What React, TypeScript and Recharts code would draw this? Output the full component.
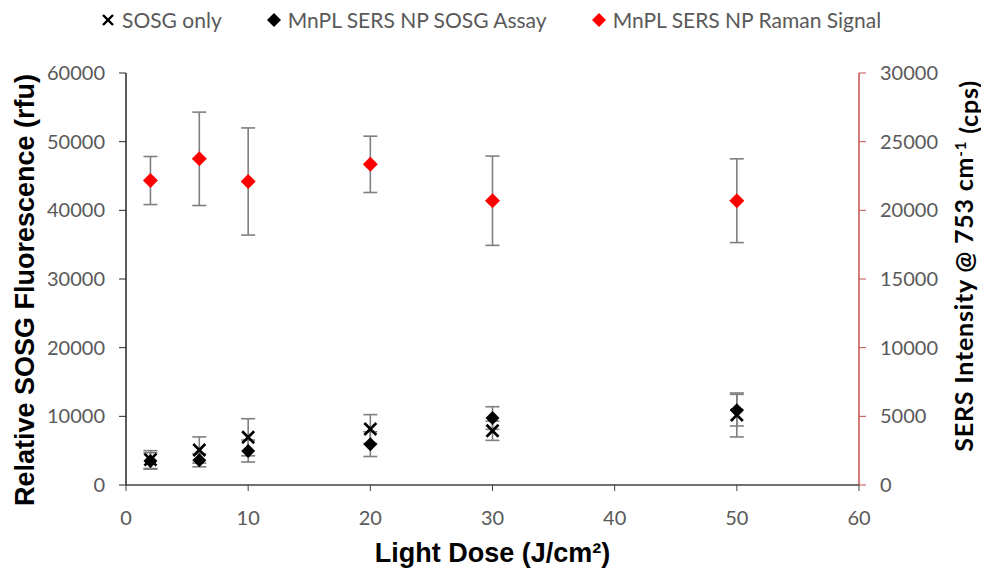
import { ComposedChart, Scatter, XAxis, YAxis, ErrorBar, Label } from "recharts";

const doses = [2, 6, 10, 20, 30, 50];
const sosgOnly = [3700, 5100, 6950, 8150, 7900, 10200];
const sosgOnlyErr = [1300, 1900, 2700, 2100, 1400, 3200];
const assay = [3500, 3600, 4950, 5950, 9750, 10900];
const assayErr = [1200, 950, 1600, 1800, 1650, 2300];
const raman = [22170, 23750, 22100, 23350, 20700, 20700];
const ramanErr = [1750, 3400, 3900, 2050, 3250, 3050];

const xTicks = [0, 10, 20, 30, 40, 50, 60];
const leftTicks = [0, 10000, 20000, 30000, 40000, 50000, 60000];
const rightTicks = [0, 5000, 10000, 15000, 20000, 25000, 30000];

const seriesNames = ["SOSG only", "MnPL SERS NP SOSG Assay", "MnPL SERS NP Raman Signal"];

const build = (vals: number[], errs: number[]) =>
  doses.map((x, i) => ({ x, y: vals[i], err: errs[i] }));

const sosgData = build(sosgOnly, sosgOnlyErr);
const assayData = build(assay, assayErr);
const ramanData = build(raman, ramanErr);

const tickStyle = { fill: "#595959", fontSize: 20, fontFamily: "Lato" };
const errColor = "#7f7f7f";
const rightRed = "#c0504d";

const diamond = (color: string, r: number) => (p: any) => {
  const { cx, cy } = p;
  return <path d={`M${cx},${cy - r}L${cx + r},${cy}L${cx},${cy + r}L${cx - r},${cy}Z`} fill={color} />;
};

const cross = (p: any) => {
  const { cx, cy } = p;
  const r = 6;
  return (
    <g stroke="#000" strokeWidth={2.6}>
      <line x1={cx - r} y1={cy - r} x2={cx + r} y2={cy + r} />
      <line x1={cx - r} y1={cy + r} x2={cx + r} y2={cy - r} />
    </g>
  );
};

const LeftTitle = (props: any) => {
  const { viewBox } = props;
  const cx = viewBox.x - 32;
  const cy = viewBox.y + viewBox.height / 2 + 11;
  return (
    <text x={cx} y={cy} transform={`rotate(-90, ${cx}, ${cy})`} textAnchor="middle" dy="0.36em"
      fontFamily="Liberation Sans" fontWeight="bold" fontSize={27} fill="#000">
      Relative SOSG Fluorescence (rfu)
    </text>
  );
};

const RightTitle = (props: any) => {
  const { viewBox } = props;
  const cx = viewBox.x + viewBox.width + 35;
  const cy = viewBox.y + viewBox.height / 2 - 13;
  return (
    <text x={cx} y={cy} transform={`rotate(-90, ${cx}, ${cy})`} textAnchor="middle" dy="0.36em"
      fontFamily="Lato" fontWeight="bold" fontSize={25} letterSpacing={0.8} fill="#000">
      SERS Intensity @ 753 cm
      <tspan dy="-0.45em" fontSize={15}>-1</tspan>
      <tspan dy="0.45em"> (cps)</tspan>
    </text>
  );
};

const BottomTitle = (props: any) => {
  const { viewBox } = props;
  return (
    <text x={viewBox.x + viewBox.width / 2} y={viewBox.y + 77} textAnchor="middle"
      fontFamily="Liberation Sans" fontWeight="bold" fontSize={27} fill="#000">
      Light Dose (J/cm²)
    </text>
  );
};

const LegendMarker = ({ i }: { i: number }) => (
  <svg width={16} height={16} style={{ marginRight: 6 }}>
    {i === 0 ? (
      <g stroke="#000" strokeWidth={2.4}>
        <line x1={3} y1={3} x2={13} y2={13} />
        <line x1={3} y1={13} x2={13} y2={3} />
      </g>
    ) : (
      <path d="M8,1L15,8L8,15L1,8Z" fill={i === 1 ? "#000" : "#ff0000"} />
    )}
  </svg>
);

export default function App() {
  return (
    <div style={{ position: "absolute", left: 0, top: 0, width: 981, height: 569, background: "#fff" }}>
      <div style={{ position: "absolute", left: 100, top: 7, display: "flex", alignItems: "center",
        fontFamily: "Lato", fontSize: 21, color: "#595959", whiteSpace: "nowrap" }}>
        {seriesNames.map((n, i) => (
          <div key={n} style={{ display: "flex", alignItems: "center", marginRight: 44 }}>
            <LegendMarker i={i} />
            <span>{n}</span>
          </div>
        ))}
      </div>
      <ComposedChart width={981} height={569} margin={{ top: 73, right: 52, bottom: 54, left: 56 }}>
        <XAxis dataKey="x" type="number" domain={[0, 60]} ticks={xTicks} interval={0}
          tick={tickStyle} tickSize={6} tickMargin={20} height={30}
          stroke="#404040" axisLine={{ stroke: "#404040", strokeWidth: 1.5 }}>
          <Label content={BottomTitle} />
        </XAxis>
        <YAxis yAxisId="left" dataKey="y" type="number" domain={[0, 60000]} ticks={leftTicks} interval={0}
          tick={tickStyle} tickSize={7} tickMargin={14} width={70}
          stroke="#262626" axisLine={{ stroke: "#262626", strokeWidth: 1.5 }}>
          <Label content={LeftTitle} />
        </YAxis>
        <YAxis yAxisId="right" orientation="right" dataKey="y" type="number" domain={[0, 30000]}
          ticks={rightTicks} interval={0} tick={tickStyle} tickSize={7} tickMargin={14} width={70}
          stroke={rightRed} axisLine={{ stroke: rightRed, strokeWidth: 1.5 }}>
          <Label content={RightTitle} />
        </YAxis>
        <Scatter name={seriesNames[2]} yAxisId="right" data={ramanData} dataKey="y"
          shape={diamond("#ff0000", 7.5)} isAnimationActive={false}>
          <ErrorBar dataKey="err" direction="y" width={7} stroke={errColor} strokeWidth={1.6} />
        </Scatter>
        <Scatter name={seriesNames[0]} yAxisId="left" data={sosgData} dataKey="y"
          shape={cross} isAnimationActive={false}>
          <ErrorBar dataKey="err" direction="y" width={7} stroke={errColor} strokeWidth={1.6} />
        </Scatter>
        <Scatter name={seriesNames[1]} yAxisId="left" data={assayData} dataKey="y"
          shape={diamond("#000", 7)} isAnimationActive={false}>
          <ErrorBar dataKey="err" direction="y" width={7} stroke={errColor} strokeWidth={1.6} />
        </Scatter>
      </ComposedChart>
    </div>
  );
}
